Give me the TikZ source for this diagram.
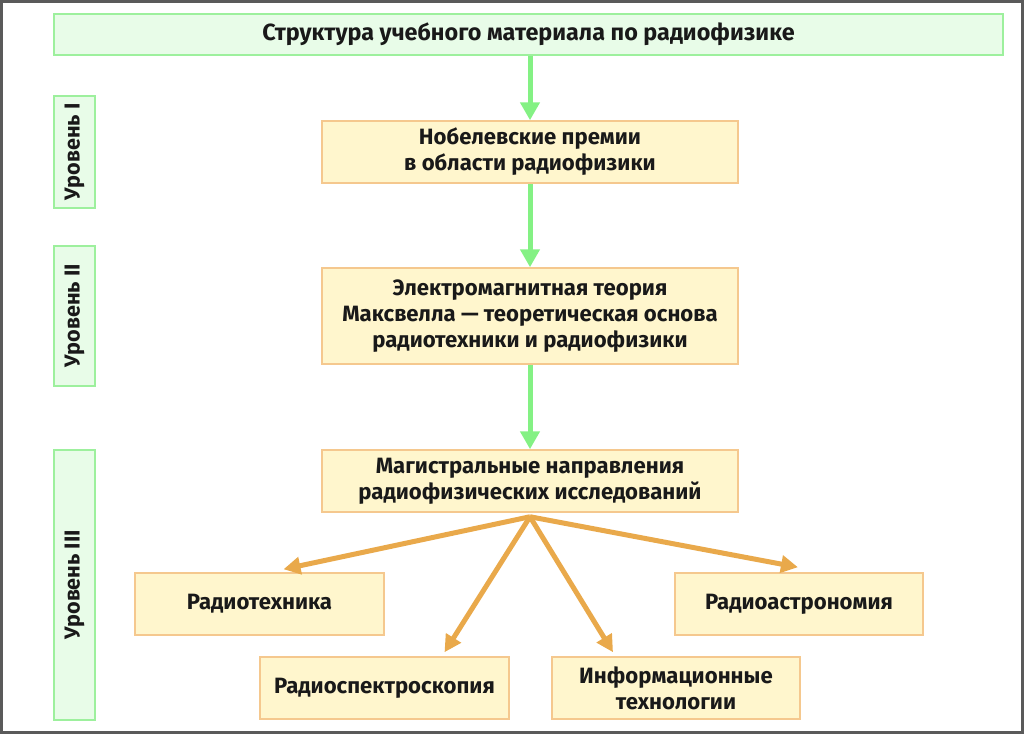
\documentclass[tikz,border=0pt]{standalone}
\usepackage{fontspec}
\setmainfont{Fira Sans}
\usepackage{xcolor}
\usepackage{tikz}
\usetikzlibrary{arrows.meta,positioning,calc}

\definecolor{framegray}{HTML}{5A5A5A}
\definecolor{levelfill}{HTML}{E8FCE8}
\definecolor{leveldraw}{HTML}{9DF09D}
\definecolor{topicfill}{HTML}{FFF6CD}
\definecolor{topicdraw}{HTML}{F5C88E}
\definecolor{greenarrow}{HTML}{84F184}
\definecolor{orangearrow}{HTML}{E9A94B}

\tikzset{
    levelbox/.style={
        draw=leveldraw,
        fill=levelfill,
        line width=0.3mm,
        inner sep=0pt,
        font=\fontsize{12.3}{16}\selectfont\bfseries,
        text=black!90
    },
    topicbox/.style={
        draw=topicdraw,
        fill=topicfill,
        line width=0.3mm,
        inner sep=0pt,
        align=center,
        font=\fontsize{12.6}{14.8}\selectfont\bfseries,
        text=black!90
    },
    greenlink/.style={
        -{Triangle[length=3.6mm,width=3.8mm]},
        line width=1mm,
        color=greenarrow
    },
    orangelink/.style={
        -{Triangle[length=3.4mm,width=3.4mm]},
        line width=1mm,
        color=orangearrow
    }
}

\begin{document}
\begin{tikzpicture}[x=0.2mm,y=-0.2mm]
                \useasboundingbox (0,0) rectangle (1024,734);

                \draw[
                    line width=0.6mm,
                    color=framegray
                    ] (1.5,1.5) rectangle (1022.5,732.5);

                \node[
                    levelbox,
                    font=\fontsize{13.3}{16}\selectfont\bfseries,
                    minimum width=949*0.2mm,
                    minimum height=41*0.2mm
                    ] (title) at (528.5,34.5) {Структура учебного материала по радиофизике};

                \node[
                    levelbox,
                    rotate=90,
                    minimum width=112*0.2mm,
                    minimum height=41*0.2mm
                    ] (levelone) at (74.5,152) {Уровень I};

                \node[
                    levelbox,
                    rotate=90,
                    minimum width=140*0.2mm,
                    minimum height=41*0.2mm
                    ] (leveltwo) at (74.5,316) {Уровень II};

                \node[
                    levelbox,
                    rotate=90,
                    minimum width=270*0.2mm,
                    minimum height=41*0.2mm
                    ] (levelthree) at (74.5,585) {Уровень III};

                \node[
                    topicbox,
                    minimum width=416*0.2mm,
                    minimum height=62*0.2mm
                    ] (nobel) at (530,152) {Нобелевские премии\\в области радиофизики};

                \node[
                    topicbox,
                    minimum width=416*0.2mm,
                    minimum height=96*0.2mm
                    ] (maxwell) at (530,316) {Электромагнитная теория\\Максвелла~--- теоретическая основа\\радиотехники и радиофизики};

                \node[
                    topicbox,
                    minimum width=416*0.2mm,
                    minimum height=62*0.2mm
                    ] (mainlines) at (530,481) {Магистральные направления\\радиофизических исследований};

                \node[
                    topicbox,
                    minimum width=249*0.2mm,
                    minimum height=62*0.2mm
                    ] (radiotech) at (259.5,604) {Радиотехника};

                \node[
                    topicbox,
                    minimum width=248*0.2mm,
                    minimum height=62*0.2mm
                    ] (radioastro) at (799,604) {Радиоастрономия};

                \node[
                    topicbox,
                    minimum width=249*0.2mm,
                    minimum height=62*0.2mm
                    ] (radiospec) at (384.5,688) {Радиоспектроскопия};

                \node[
                    topicbox,
                    minimum width=248*0.2mm,
                    minimum height=62*0.2mm
                    ] (infotech) at (676,688) {Информационные\\технологии};

                \coordinate (fan) at ($(mainlines.south)+(0,4)$);

                \draw[greenlink] (title.south -| nobel.north) to (nobel.north);
                \draw[greenlink] (nobel.south) to (maxwell.north);
                \draw[greenlink] (maxwell.south) to (mainlines.north);

                \draw[orangelink] (fan) to ($(radiotech.north)+(24,-3)$);
                \draw[orangelink] (fan) to ($(radiospec.north)+(60,-4)$);
                \draw[orangelink] (fan) to ($(infotech.north)+(-63,-4)$);
                \draw[orangelink] (fan) to ($(radioastro.north)+(-1,-5)$);

            \end{tikzpicture}
\end{document}
